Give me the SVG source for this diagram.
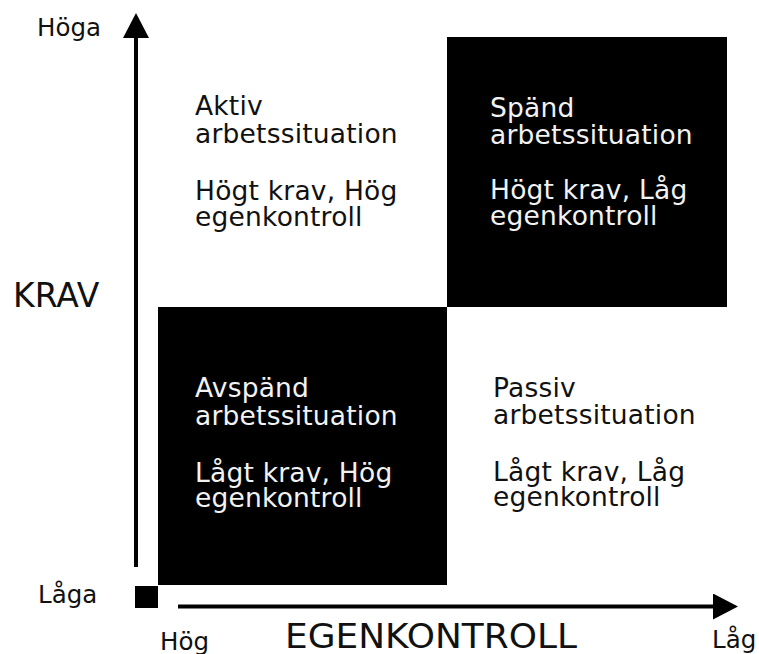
<svg xmlns="http://www.w3.org/2000/svg" width="759" height="654" viewBox="0 0 759 654">
<style>
  text { font-family: "DejaVu Sans", Verdana, "Liberation Sans", sans-serif; fill: #111; }
  .q { font-size: 26.5px; letter-spacing: 0.2px; }
  .qw { font-size: 26.5px; letter-spacing: 0.2px; fill: #f2f2f2; }
  .ax { font-size: 24.5px; }
  .big { font-size: 33px; }
  .axis { stroke: #000; stroke-width: 4; fill: none; }
  .box { fill: #000; }
</style>
<defs>
  <marker id="arrow" viewBox="0 0 25 26" refX="0" refY="13" markerWidth="25" markerHeight="26" markerUnits="userSpaceOnUse" orient="auto">
    <path d="M0,0 L25,13 L0,26 Z" fill="#000"/>
  </marker>
</defs>
<rect width="759" height="654" fill="#fff"/>

<g id="connectors">
  <line class="axis" x1="136" y1="567" x2="136" y2="38" marker-end="url(#arrow)"/>
  <line class="axis" x1="178" y1="606.5" x2="713" y2="606.5" marker-end="url(#arrow)"/>
</g>

<g id="origin">
  <rect class="box" x="135" y="586" width="23" height="22"/>
</g>

<g id="aktiv">
  <text class="q"><tspan x="195" y="115">Aktiv</tspan><tspan x="195" y="143">arbetssituation</tspan><tspan x="195" y="200">Högt krav, Hög</tspan><tspan x="195" y="226">egenkontroll</tspan></text>
</g>

<g id="spand">
  <rect class="box" x="447" y="37" width="280" height="270"/>
  <text class="qw"><tspan x="490" y="117">Spänd</tspan><tspan x="490" y="144">arbetssituation</tspan><tspan x="490" y="199">Högt krav, Låg</tspan><tspan x="490" y="225">egenkontroll</tspan></text>
</g>

<g id="avspand">
  <rect class="box" x="158" y="307" width="289" height="278"/>
  <text class="qw"><tspan x="195" y="397">Avspänd</tspan><tspan x="195" y="425">arbetssituation</tspan><tspan x="195" y="482">Lågt krav, Hög</tspan><tspan x="195" y="507">egenkontroll</tspan></text>
</g>

<g id="passiv">
  <text class="q"><tspan x="493" y="397">Passiv</tspan><tspan x="493" y="424">arbetssituation</tspan><tspan x="493" y="481">Lågt krav, Låg</tspan><tspan x="493" y="506">egenkontroll</tspan></text>
</g>

<g id="labels">
  <text class="ax" x="37" y="36">Höga</text>
  <text class="big" x="13" y="307">KRAV</text>
  <text class="ax" x="38" y="603">Låga</text>
  <text class="ax" x="160" y="650">Hög</text>
  <text class="big" x="285" y="648" textLength="292" lengthAdjust="spacingAndGlyphs">EGENKONTROLL</text>
  <text class="ax" x="712" y="648">Låg</text>
</g>
</svg>
